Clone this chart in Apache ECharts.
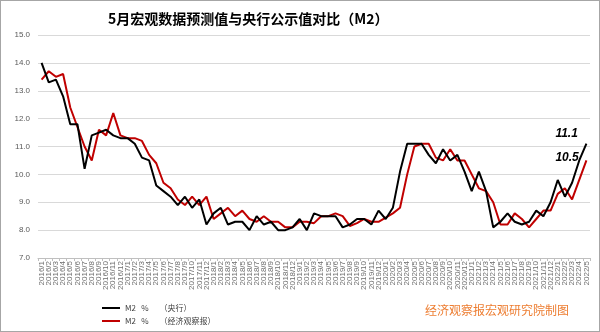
<!DOCTYPE html>
<html>
<head>
<meta charset="utf-8">
<script src="https://cdn.jsdelivr.net/npm/echarts@6/dist/echarts.min.js"></script>
<style>
  html, body { margin: 0; padding: 0; background: #fff; }
  #chart { width: 600px; height: 332px; box-sizing: border-box; border: 1px solid #a6a6a6; }
</style>
</head>
<body>
<div id="chart"></div>
<script>
// Monthly categories 2016/1 .. 2022/5
const months = [];
for (let y = 2016; y <= 2022; y++) {
  const last = y === 2022 ? 5 : 12;
  for (let m = 1; m <= last; m++) months.push(y + '/' + m);
}

// M2 year-on-year growth published by the central bank (%)
const m2Pboc = [
  14.0, 13.3, 13.4, 12.8, 11.8, 11.8, 10.2, 11.4, 11.5, 11.6, 11.4, 11.3,
  11.3, 11.1, 10.6, 10.5, 9.6, 9.4, 9.2, 8.9, 9.2, 8.8, 9.1, 8.2,
  8.6, 8.8, 8.2, 8.3, 8.3, 8.0, 8.5, 8.2, 8.3, 8.0, 8.0, 8.1,
  8.4, 8.0, 8.6, 8.5, 8.5, 8.5, 8.1, 8.2, 8.4, 8.4, 8.2, 8.7,
  8.4, 8.8, 10.1, 11.1, 11.1, 11.1, 10.7, 10.4, 10.9, 10.5, 10.7, 10.1,
  9.4, 10.1, 9.4, 8.1, 8.3, 8.6, 8.3, 8.2, 8.3, 8.7, 8.5, 9.0,
  9.8, 9.2, 9.7, 10.5, 11.1
];

// M2 growth forecast by 经济观察报 (%)
const m2Forecast = [
  13.4, 13.7, 13.5, 13.6, 12.4, 11.7, 11.0, 10.5, 11.6, 11.4, 12.2, 11.4,
  11.3, 11.3, 11.2, 10.7, 10.4, 9.7, 9.5, 9.1, 8.9, 9.2, 8.9, 9.2,
  8.4, 8.6, 8.8, 8.5, 8.7, 8.4, 8.3, 8.5, 8.3, 8.3, 8.1, 8.1,
  8.3, 8.3, 8.25, 8.5, 8.5, 8.6, 8.5, 8.15, 8.25, 8.4, 8.3, 8.3,
  8.45, 8.6, 8.8, 10.0, 11.0, 11.1, 11.1, 10.6, 10.5, 10.9, 10.5, 10.5,
  10.0, 9.5, 9.4, 9.0, 8.2, 8.2, 8.6, 8.4, 8.1, 8.4, 8.7, 8.7,
  9.3, 9.5, 9.1, 9.8, 10.5
];

const seriesNames = ['M2   %      （央行）', 'M2   %      （经济观察报）'];
const yTicks = { min: 7, max: 15, step: 1 };

// Label printed beside the final point of a line, showing its value
function endValueLabel(offset) {
  return {
    show: true,
    offset: offset,
    distance: 0,
    formatter: p => Number(Array.isArray(p.value) ? p.value[1] : p.value).toFixed(1),
    fontFamily: 'Liberation Sans',
    fontStyle: 'italic',
    fontWeight: 'bold',
    fontSize: 12,
    color: '#000'
  };
}

const chart = echarts.init(document.getElementById('chart'), null, { renderer: 'canvas' });
chart.setOption({
  animation: false,
  title: {
    text: '5月宏观数据预测值与央行公示值对比（M2）',
    left: 102,
    top: 6,
    textStyle: { fontFamily: 'Noto Sans CJK SC', fontSize: 14, fontWeight: 'bold', color: '#000' }
  },
  grid: { left: 37, right: 9, top: 34, bottom: 73, containLabel: false },
  legend: {
    orient: 'vertical',
    left: 96,
    top: 298,
    itemWidth: 18,
    itemHeight: 2,
    itemGap: 5,
    icon: 'rect',
    textStyle: { fontFamily: 'Noto Sans CJK SC', fontSize: 8, color: '#404040' },
    data: seriesNames
  },
  xAxis: {
    type: 'category',
    data: months,
    boundaryGap: true,
    axisLine: { lineStyle: { color: '#bfbfbf', width: 1 } },
    axisTick: { show: true, length: 3, lineStyle: { color: '#bfbfbf' } },
    axisLabel: {
      interval: 0,
      rotate: 90,
      fontSize: 8,
      margin: 3,
      color: '#6e6e6e',
      fontFamily: 'Liberation Sans'
    },
    splitLine: { show: false }
  },
  yAxis: {
    type: 'value',
    min: yTicks.min,
    max: yTicks.max,
    interval: yTicks.step,
    axisLine: { show: false },
    axisTick: { show: false },
    axisLabel: {
      formatter: v => v.toFixed(1),
      fontSize: 8,
      margin: 8,
      color: '#595959',
      fontFamily: 'Liberation Sans'
    },
    splitLine: { lineStyle: { color: '#d9d9d9', width: 1 } }
  },
  series: [
    {
      name: seriesNames[0],
      type: 'line',
      data: m2Pboc,
      symbol: 'none',
      lineStyle: { color: '#000000', width: 2 },
      itemStyle: { color: '#000000' },
      endLabel: endValueLabel([-31, -10]),
      z: 3
    },
    {
      name: seriesNames[1],
      type: 'line',
      data: m2Forecast,
      symbol: 'none',
      lineStyle: { color: '#c00000', width: 2 },
      itemStyle: { color: '#c00000' },
      endLabel: endValueLabel([-31, -3]),
      z: 2
    }
  ],
  graphic: [
    {
      type: 'text',
      left: 424,
      top: 303,
      style: {
        text: '经济观察报宏观研究院制图',
        fill: '#ed7d31',
        font: '12px "Noto Sans CJK SC"'
      }
    }
  ]
});
</script>
</body>
</html>
